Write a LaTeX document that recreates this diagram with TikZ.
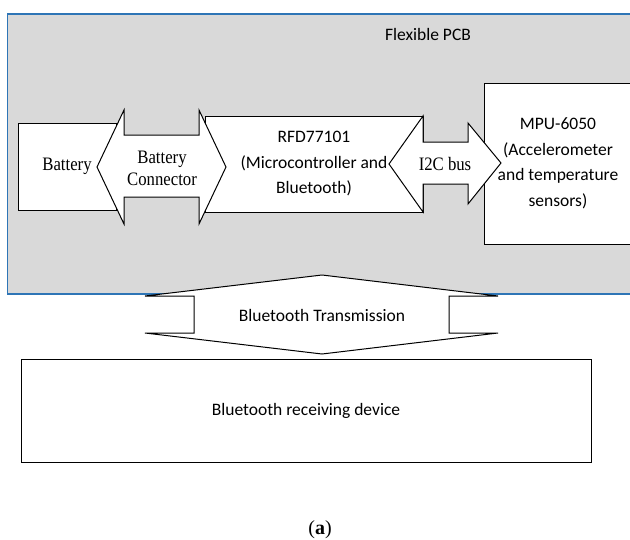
\documentclass[tikz,border=0pt]{standalone}
\usepackage{fontspec}
\setmainfont{Liberation Serif}
\newfontfamily\calibri{Carlito}
\newfontfamily\narrowserif[FakeStretch=0.88]{Liberation Serif}
\definecolor{pcbgray}{HTML}{D9D9D9}
\definecolor{pcbblue}{HTML}{2E75B6}

\begin{document}
\begin{tikzpicture}[x=1pt,y=-1pt,
	box/.style={draw,fill=white,line width=1pt,inner sep=0pt,align=center,
		font=\calibri\fontsize{17.5}{25.5}\selectfont},
	bigarrow/.style={draw,fill=white,line width=1pt,line join=miter},
	lbl/.style={inner sep=0pt,align=center,font=\calibri\fontsize{17.5}{25.5}\selectfont},
	tlbl/.style={inner sep=0pt,align=center,font=\narrowserif\fontsize{19}{22}\selectfont}]
	\useasboundingbox (0,0) rectangle (630,539);
	% flexible PCB
	\draw[fill=pcbgray,draw=pcbblue,line width=1.2pt] (7.5,14) rectangle (640,294);
	\node[lbl] (pcb) at (428,34) {Flexible PCB};
	% blocks
	\node[box,minimum width=98pt,minimum height=87pt,font=\narrowserif\fontsize{19}{22}\selectfont] (battery) at (67,166.5) {Battery};
	\node[box,minimum width=218pt,minimum height=96pt] (rfd) at (314,164) {RFD77101\\(Microcontroller and\\Bluetooth)};
	\node[box,minimum width=148pt,minimum height=161pt] (mpu) at (558,163.5) {MPU-6050\\(Accelerometer\\and temperature\\sensors)};
	\node[box,minimum width=570pt,minimum height=103pt] (rx) at (306,410.5) {Bluetooth receiving device};
	% battery connector
	\draw[bigarrow] (97,167) -- (124,110) -- (124,135) -- (199,135) -- (199,110) -- (226,167)
		-- (199,224) -- (199,197) -- (124,197) -- (124,224) -- cycle;
	\node[tlbl] (conn) at (162,168) {Battery\\Connector};
	% I2C bus
	\draw[bigarrow] (389,164) -- (423,116) -- (423,142) -- (468,142) -- (468,123) -- (501,163)
		-- (468,204) -- (468,184) -- (423,184) -- (423,212) -- cycle;
	\node[tlbl] (i2c) at (445,164) {I2C bus};
	% bluetooth transmission
	\draw[bigarrow] (322,275) -- (498,296) -- (449,296) -- (449,333) -- (498,333) -- (322,354)
		-- (145,333) -- (194,333) -- (194,296) -- (145,296) -- cycle;
	\node[lbl] (bt) at (322,315) {Bluetooth Transmission};
	% caption
	\node[font=\fontsize{20}{24}\selectfont] (cap) at (320,530) {(\textbf{a})};
\end{tikzpicture}
\end{document}
